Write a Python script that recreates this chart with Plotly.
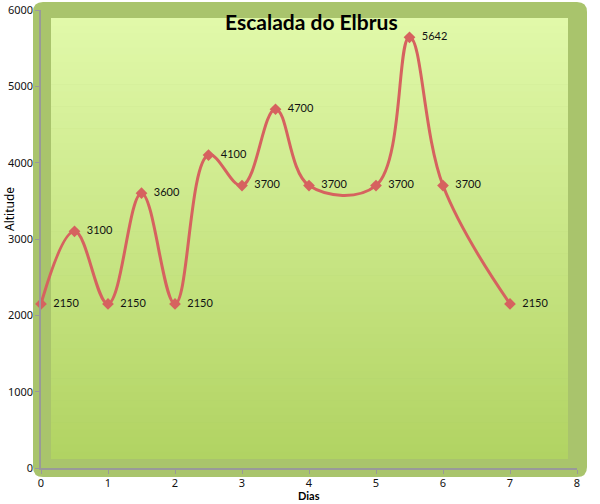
import plotly.graph_objects as go

# ---- data ----
dias = [0, 0.5, 1, 1.5, 2, 2.5, 3, 3.5, 4, 5, 5.5, 6, 7]
altitude = [2150, 3100, 2150, 3600, 2150, 4100, 3700, 4700, 3700, 3700, 5642, 3700, 2150]
x_ticks = [0, 1, 2, 3, 4, 5, 6, 7, 8]
y_ticks = [0, 1000, 2000, 3000, 4000, 5000, 6000]
title_text = "Escalada do Elbrus"
x_title = "Dias"
y_title = "Altitude"

# ---- layout geometry (pixels) ----
FW, FH = 600, 504
L, R, T, B = 41, 23, 10, 36
PW = FW - L - R
PH = FH - T - B


def px(x):
    return (x - L) / PW


def py(y):
    return (FH - B - y) / PH


shapes = []

# outer rounded green frame
x0, x1, y0, y1 = 33, 587, 2, 477
rad = 10
rx, ry = rad / PW, rad / PH
X0, X1, Y0, Y1 = px(x0), px(x1), py(y1), py(y0)
path = (
    f"M {X0+rx},{Y1} L {X1-rx},{Y1} Q {X1},{Y1} {X1},{Y1-ry} "
    f"L {X1},{Y0+ry} Q {X1},{Y0} {X1-rx},{Y0} "
    f"L {X0+rx},{Y0} Q {X0},{Y0} {X0},{Y0+ry} "
    f"L {X0},{Y1-ry} Q {X0},{Y1} {X0+rx},{Y1} Z"
)
shapes.append(dict(type="path", path=path, xref="paper", yref="paper",
                   fillcolor="#A9C46C", line=dict(width=0), layer="below"))

# inner gradient panel (stripes)
ix0, ix1, iy0, iy1 = 51, 568, 18, 459
top = (0xE1, 0xF9, 0xAA)
bot = (0xB1, 0xD3, 0x62)
n = 60
for i in range(n):
    t0 = iy0 + (iy1 - iy0) * i / n
    t1 = iy0 + (iy1 - iy0) * (i + 1) / n + 0.6
    f = (i + 0.5) / n
    c = tuple(round(top[k] + (bot[k] - top[k]) * f) for k in range(3))
    shapes.append(dict(type="rect", xref="paper", yref="paper",
                       x0=px(ix0), x1=px(ix1), y0=py(min(t1, iy1)), y1=py(t0),
                       fillcolor="rgb(%d,%d,%d)" % c, line=dict(width=0),
                       layer="below"))

fig = go.Figure()
fig.add_trace(go.Scatter(
    x=dias, y=altitude,
    mode="lines+markers+text",
    line=dict(color="#D6625F", width=3, shape="spline", smoothing=1.1),
    marker=dict(symbol="diamond", size=9, color="#D6625F"),
    text=["\u00a0\u00a0" + str(v) for v in altitude],
    textposition="middle right",
    textfont=dict(family="Lato", size=11, color="#111111"),
    cliponaxis=False,
    hoverinfo="x+y",
))

axis_common = dict(
    showgrid=False, zeroline=False, showline=True, linecolor="#999999",
    linewidth=1.5, ticks="outside", tickcolor="#999999", ticklen=4,
    tickfont=dict(family="Noto Sans", size=11, color="#111111"),
    automargin=False,
)

fig.update_layout(
    width=FW, height=FH,
    margin=dict(l=L, r=R, t=T, b=B, autoexpand=False),
    paper_bgcolor="white", plot_bgcolor="rgba(0,0,0,0)",
    showlegend=False,
    shapes=shapes,
    xaxis=dict(range=[0, 8], tickvals=x_ticks, **axis_common),
    yaxis=dict(range=[0, 6000], tickvals=y_ticks, **axis_common),
    annotations=[
        dict(text="<b>" + title_text + "</b>", xref="paper", yref="paper",
             x=px(311), y=py(22),
             showarrow=False, font=dict(family="Lato", size=21, color="black"),
             xanchor="center", yanchor="middle"),
        dict(text="<b>" + x_title + "</b>", xref="paper", yref="paper",
             x=px(309), y=py(495), showarrow=False,
             font=dict(family="Lato", size=11, color="black"),
             xanchor="center", yanchor="middle"),
        dict(text=y_title, xref="paper", yref="paper", x=px(10), y=py(209),
             showarrow=False, textangle=-90,
             font=dict(family="Noto Sans", size=12, color="black"),
             xanchor="center", yanchor="middle"),
    ],
)

fig.write_html("out.html",
               config={"displayModeBar": False},
               post_script="document.body.style.margin='0';"
                           "document.body.style.overflow='hidden';")
